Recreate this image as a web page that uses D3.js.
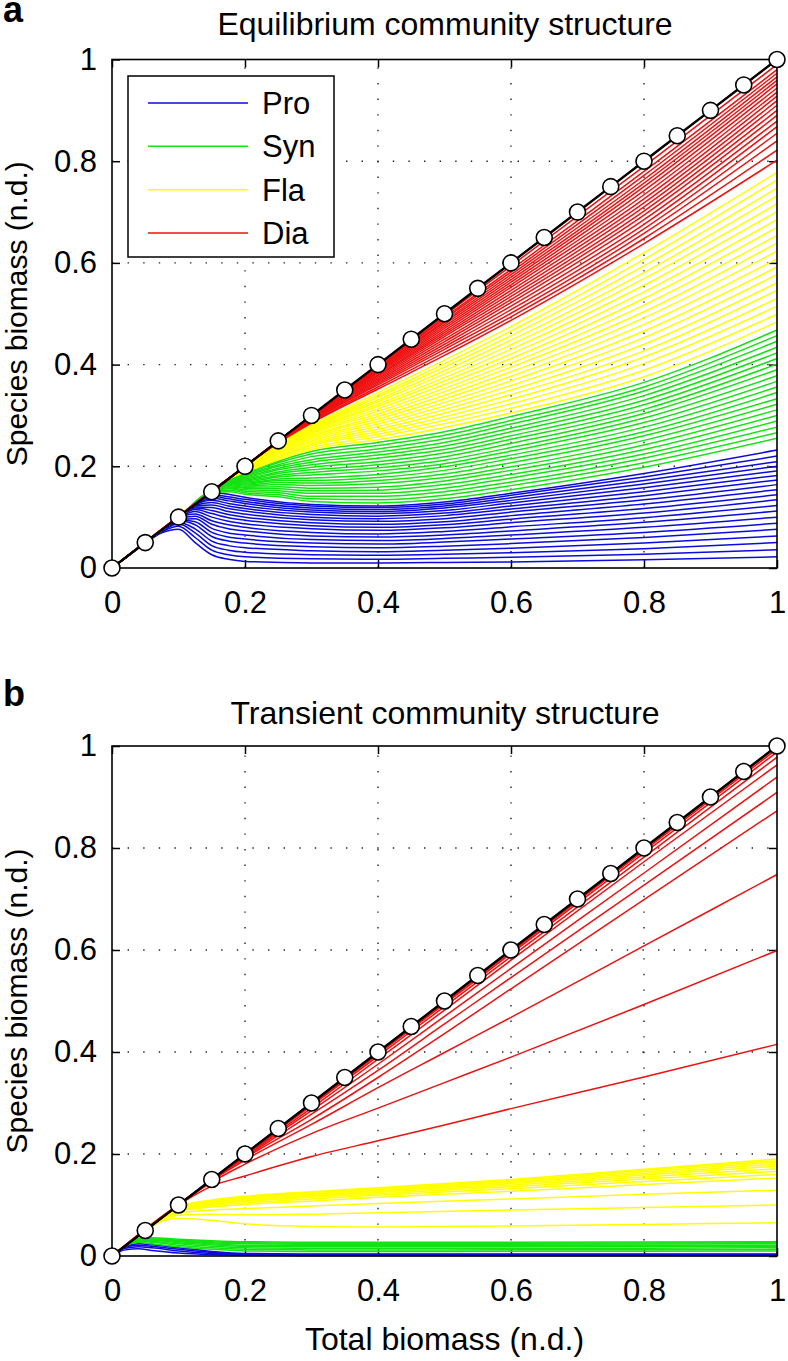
<!DOCTYPE html>
<html><head><meta charset="utf-8">
<script src="https://cdn.jsdelivr.net/npm/d3@7"></script>
<style>
body{margin:0;background:#fff;}
text{font-family:"Liberation Sans",Arial,Helvetica,sans-serif;fill:#000;}
</style></head>
<body>
<script>
// ---------- shared ----------
const tickValues = [0, 0.2, 0.4, 0.6, 0.8, 1];
const tickLabels = ["0", "0.2", "0.4", "0.6", "0.8", "1"];
const gridValues = [0.2, 0.4, 0.6, 0.8];
const totalMarkers = [0, 0.05, 0.1, 0.15, 0.2, 0.25, 0.3, 0.35, 0.4, 0.45, 0.5, 0.55, 0.6, 0.65, 0.7, 0.75, 0.8, 0.85, 0.9, 0.95, 1];
const legendLabels = ["Pro", "Syn", "Fla", "Dia"];
const groupColors = ["#0b0bdc", "#12e412", "#ffff00", "#ee1111"];

// ---------- panel a: equilibrium (cumulative species biomass) ----------
const eqProX = [0, 0.05, 0.075, 0.1, 0.125, 0.15, 0.175, 0.2, 0.3, 0.4, 0.5, 0.6, 0.8, 1];
const eqPro = [
 [0, .049, .069, .076, .050, .026, .017, .013, .010, .010, .011, .012, .016, .022],
 [0, .05, .071, .082, .060, .035, .026, .022, .018, .017, .019, .021, .027, .036],
 [0, .05, .072, .087, .069, .044, .035, .031, .026, .025, .027, .030, .038, .050],
 [0, .05, .073, .090, .077, .053, .044, .040, .034, .032, .035, .039, .049, .063],
 [0, .05, .074, .093, .085, .062, .053, .049, .042, .040, .043, .048, .060, .076],
 [0, .05, .074, .095, .091, .070, .061, .057, .049, .047, .051, .057, .070, .088],
 [0, .05, .075, .096, .097, .078, .069, .065, .056, .054, .058, .065, .080, .100],
 [0, .05, .075, .097, .102, .086, .077, .073, .063, .061, .065, .073, .090, .112],
 [0, .05, .075, .098, .106, .093, .085, .080, .070, .067, .072, .081, .099, .123],
 [0, .05, .075, .098, .111, .100, .092, .087, .077, .074, .079, .089, .108, .134],
 [0, .05, .075, .099, .115, .107, .099, .094, .083, .080, .085, .096, .117, .144],
 [0, .05, .075, .099, .118, .113, .105, .100, .089, .086, .091, .103, .126, .154],
 [0, .05, .075, .099, .120, .119, .111, .106, .095, .092, .097, .110, .134, .164],
 [0, .05, .075, .1, .122, .124, .117, .112, .100, .097, .103, .116, .142, .173],
 [0, .05, .075, .1, .123, .129, .122, .117, .105, .102, .108, .122, .150, .182],
 [0, .05, .075, .1, .124, .133, .127, .122, .110, .107, .113, .128, .158, .191],
 [0, .05, .075, .1, .124, .137, .132, .127, .114, .111, .118, .133, .165, .200],
 [0, .05, .075, .1, .125, .141, .136, .131, .118, .115, .122, .138, .172, .209],
 [0, .05, .075, .1, .125, .144, .140, .135, .122, .119, .126, .143, .179, .220],
 [0, .05, .075, .1, .125, .148, .145, .139, .125, .122, .130, .147, .186, .232]
];
const eqSynX = [0, 0.1, 0.15, 0.175, 0.2, 0.25, 0.3, 0.4, 0.5, 0.6, 0.8, 1];
const eqSyn = [
 [0, .1, .149, .150, .145, .140, .131, .128, .136, .154, .198, .255],
 [0, .1, .15, .153, .148, .144, .136, .134, .143, .162, .207, .266],
 [0, .1, .15, .156, .151, .148, .141, .141, .150, .169, .216, .277],
 [0, .1, .15, .158, .154, .152, .147, .147, .157, .177, .224, .289],
 [0, .1, .15, .160, .157, .156, .152, .153, .164, .184, .233, .300],
 [0, .1, .15, .162, .159, .160, .157, .159, .171, .192, .242, .311],
 [0, .1, .15, .164, .161, .164, .162, .166, .178, .199, .251, .322],
 [0, .1, .15, .166, .163, .168, .167, .172, .185, .207, .260, .333],
 [0, .1, .15, .167, .165, .172, .172, .178, .192, .215, .268, .345],
 [0, .1, .15, .168, .167, .175, .177, .184, .199, .222, .277, .356],
 [0, .1, .15, .169, .169, .179, .183, .191, .205, .230, .286, .367],
 [0, .1, .15, .170, .171, .182, .188, .197, .212, .237, .295, .378],
 [0, .1, .15, .171, .173, .186, .193, .203, .219, .245, .304, .390],
 [0, .1, .15, .172, .175, .189, .198, .209, .226, .253, .312, .401],
 [0, .1, .15, .173, .177, .193, .203, .216, .233, .260, .321, .412],
 [0, .1, .15, .173, .179, .196, .208, .222, .240, .268, .330, .423],
 [0, .1, .15, .174, .181, .200, .213, .228, .247, .275, .339, .434],
 [0, .1, .15, .174, .183, .203, .219, .234, .254, .283, .348, .446],
 [0, .1, .15, .175, .185, .207, .224, .241, .261, .290, .356, .457],
 [0, .1, .15, .175, .187, .210, .229, .247, .268, .298, .365, .468]
];
const eqFlaX = [0, 0.15, 0.175, 0.2, 0.25, 0.3, 0.4, 0.6, 0.8, 1];
const eqFla = [
 [0, .15, .175, .188, .213, .233, .252, .305, .376, .484],
 [0, .15, .175, .189, .216, .237, .258, .314, .389, .499],
 [0, .15, .175, .190, .219, .241, .263, .323, .402, .515],
 [0, .15, .175, .191, .221, .244, .268, .332, .415, .530],
 [0, .15, .175, .192, .224, .247, .273, .341, .427, .546],
 [0, .15, .175, .193, .226, .250, .278, .350, .440, .561],
 [0, .15, .175, .193, .228, .253, .283, .359, .453, .577],
 [0, .15, .175, .194, .230, .256, .288, .368, .466, .592],
 [0, .15, .175, .195, .232, .259, .293, .377, .479, .608],
 [0, .15, .175, .195, .234, .261, .298, .386, .492, .623],
 [0, .15, .175, .196, .235, .264, .303, .395, .504, .639],
 [0, .15, .175, .196, .237, .266, .308, .403, .517, .654],
 [0, .15, .175, .197, .238, .268, .313, .412, .530, .670],
 [0, .15, .175, .197, .239, .270, .318, .421, .543, .685],
 [0, .15, .175, .198, .240, .272, .322, .430, .556, .701],
 [0, .15, .175, .198, .241, .274, .327, .439, .569, .716],
 [0, .15, .175, .198, .242, .276, .331, .448, .581, .732],
 [0, .15, .175, .199, .243, .277, .336, .457, .594, .747],
 [0, .15, .175, .199, .244, .279, .340, .466, .607, .763],
 [0, .15, .175, .199, .245, .281, .345, .475, .620, .778]
];
const eqDiaX = [0, 0.2, 0.25, 0.3, 0.4, 0.5, 0.6, 0.8, 1];
const eqDia = [
 [0, .2, .246, .285, .352, .418, .487, .638, .802],
 [0, .2, .247, .287, .356, .424, .494, .648, .822],
 [0, .2, .247, .289, .360, .430, .501, .658, .840],
 [0, .2, .248, .290, .363, .435, .508, .667, .855],
 [0, .2, .248, .291, .366, .440, .515, .676, .868],
 [0, .2, .248, .292, .369, .445, .522, .685, .879],
 [0, .2, .249, .293, .372, .450, .528, .694, .890],
 [0, .2, .249, .294, .375, .455, .534, .702, .900],
 [0, .2, .249, .295, .378, .459, .540, .710, .910],
 [0, .2, .249, .296, .380, .463, .546, .718, .919],
 [0, .2, .25, .296, .383, .467, .552, .726, .928],
 [0, .2, .25, .297, .385, .471, .557, .734, .936],
 [0, .2, .25, .297, .387, .475, .562, .742, .944],
 [0, .2, .25, .298, .389, .479, .567, .750, .952],
 [0, .2, .25, .298, .391, .483, .572, .757, .959],
 [0, .2, .25, .299, .393, .486, .577, .764, .966],
 [0, .2, .25, .299, .395, .490, .582, .772, .973],
 [0, .2, .25, .299, .397, .493, .587, .780, .980],
 [0, .2, .25, .3, .399, .497, .594, .790, .990],
 [0, .2, .25, .3, .4, .5, .6, .8, 1]
];

// ---------- panel b: transient ----------
const trSmallX = [0, 0.02, 0.04, 0.06, 0.1, 0.15, 0.2, 0.3, 0.5, 1];
const trPro = [
 [0, .012, .014, .011, .006, .003, .002, .001, .001, .001],
 [0, .015, .018, .016, .010, .005, .003, .002, .002, .002],
 [0, .017, .021, .019, .013, .007, .004, .003, .003, .003],
 [0, .018, .024, .022, .016, .009, .005, .004, .004, .004]
];
const trSyn = [
 [0, .02, .027, .024, .018, .013, .010, .009, .009, .010],
 [0, .02, .029, .027, .021, .016, .013, .012, .012, .013],
 [0, .02, .030, .029, .024, .019, .016, .015, .015, .016],
 [0, .02, .031, .031, .026, .022, .019, .018, .018, .019],
 [0, .02, .032, .032, .028, .024, .021, .021, .021, .021],
 [0, .02, .033, .033, .030, .026, .024, .023, .023, .024],
 [0, .02, .034, .034, .031, .028, .026, .025, .025, .026],
 [0, .02, .035, .036, .033, .030, .028, .027, .027, .028]
];
const trFlaX = [0, 0.05, 0.075, 0.1, 0.15, 0.2, 0.3, 0.4, 0.6, 0.8, 1];
const trFla = [
 [0, .05, .068, .074, .070, .063, .058, .057, .059, .062, .065],
 [0, .05, .070, .080, .082, .081, .082, .085, .090, .095, .100],
 [0, .05, .071, .084, .090, .093, .098, .103, .112, .121, .129],
 [0, .05, .072, .087, .096, .101, .108, .115, .127, .140, .153],
 [0, .05, .073, .089, .099, .104, .112, .119, .132, .146, .160],
 [0, .05, .073, .090, .101, .107, .115, .122, .136, .151, .166],
 [0, .05, .074, .091, .103, .109, .117, .125, .139, .155, .171],
 [0, .05, .074, .092, .105, .111, .119, .127, .142, .159, .176],
 [0, .05, .074, .093, .106, .113, .121, .129, .144, .162, .180],
 [0, .05, .075, .094, .107, .114, .123, .130, .146, .165, .184],
 [0, .05, .075, .095, .109, .116, .125, .132, .148, .168, .187],
 [0, .05, .075, .096, .110, .117, .126, .134, .150, .170, .190]
];
const trDiaX = [0, 0.1, 0.15, 0.2, 0.3, 0.4, 0.5, 0.6, 0.8, 1];
const trDia = [
 [0, .1, .137, .157, .195, .226, .257, .289, .351, .415],
 [0, .1, .145, .180, .240, .290, .340, .390, .493, .599],
 [0, .1, .148, .188, .258, .330, .399, .468, .608, .748],
 [0, .1, .149, .192, .268, .350, .436, .524, .699, .873],
 [0, .1, .15, .194, .278, .364, .455, .546, .727, .909],
 [0, .1, .15, .196, .285, .376, .470, .564, .751, .939],
 [0, .1, .15, .197, .290, .386, .482, .580, .773, .963],
 [0, .1, .15, .198, .295, .392, .489, .587, .782, .978],
 [0, .1, .15, .199, .297, .396, .494, .593, .790, .988],
 [0, .1, .15, .2, .299, .398, .497, .596, .795, .994],
 [0, .1, .15, .2, .3, .399, .499, .599, .798, .998],
 [0, .1, .15, .2, .3, .4, .5, .6, .8, 1]
];

// ---------- drawing ----------
const W = 788, H = 1361;
const svg = d3.select("body").append("svg").attr("width", W).attr("height", H);
const TICK_FONT = 31;

function drawPanel(cfg) {
  const x = d3.scaleLinear().domain([0, 1]).range([112, 777]);
  const y = d3.scaleLinear().domain([0, 1]).range([cfg.bottom, cfg.top]);
  const g = svg.append("g");

  // grid
  g.selectAll(".gx").data(gridValues).join("line")
    .attr("x1", d => x(d)).attr("x2", d => x(d)).attr("y1", y(0)).attr("y2", y(1))
    .attr("stroke", "#222").attr("stroke-width", 1.4).attr("stroke-dasharray", "1.4,14.2");
  g.selectAll(".gy").data(gridValues).join("line")
    .attr("y1", d => y(d)).attr("y2", d => y(d)).attr("x1", x(0)).attr("x2", x(1))
    .attr("stroke", "#222").attr("stroke-width", 1.4).attr("stroke-dasharray", "1.4,14.2");

  // axes (inward ticks on all four sides)
  const fmt = d => tickLabels[tickValues.indexOf(d)];
  const bottom = g.append("g").attr("transform", `translate(0,${y(0)})`)
    .call(d3.axisBottom(x).tickValues(tickValues).tickSize(-8).tickSizeOuter(0).tickPadding(23).tickFormat(fmt));
  const left = g.append("g").attr("transform", `translate(${x(0)},0)`)
    .call(d3.axisLeft(y).tickValues(tickValues).tickSize(-8).tickSizeOuter(0).tickPadding(15).tickFormat(fmt));
  const top = g.append("g").attr("transform", `translate(0,${y(1)})`)
    .call(d3.axisTop(x).tickValues(tickValues).tickSize(-8).tickSizeOuter(0).tickFormat(""));
  const right = g.append("g").attr("transform", `translate(${x(1)},0)`)
    .call(d3.axisRight(y).tickValues(tickValues).tickSize(-8).tickSizeOuter(0).tickFormat(""));
  [bottom, left, top, right].forEach(a => {
    a.select(".domain").remove();
    a.selectAll(".tick line").attr("stroke", "#000").attr("stroke-width", 1.5);
    a.selectAll("text").attr("font-size", TICK_FONT).attr("font-family", '"Liberation Sans",Arial,sans-serif').attr("fill", "#000");
  });

  // series
  const line = d3.line().curve(d3.curveMonotoneX);
  cfg.groups.forEach((grp, gi) => {
    g.append("g").selectAll("path").data(grp.rows).join("path")
      .attr("d", row => line(row.map((v, i) => [x(grp.xs[i]), y(v)])))
      .attr("fill", "none").attr("stroke", groupColors[gi]).attr("stroke-width", 1.5);
  });

  // frame
  g.append("rect").attr("x", x(0)).attr("y", y(1)).attr("width", x(1) - x(0)).attr("height", y(0) - y(1))
    .attr("fill", "none").attr("stroke", "#000").attr("stroke-width", 1.6);

  // total biomass line + markers
  g.append("path").attr("d", d3.line()(totalMarkers.map(v => [x(v), y(v)])))
    .attr("fill", "none").attr("stroke", "#000").attr("stroke-width", 2.4);
  g.selectAll("circle").data(totalMarkers).join("circle")
    .attr("cx", d => x(d)).attr("cy", d => y(d)).attr("r", 8)
    .attr("fill", "#fff").attr("stroke", "#000").attr("stroke-width", 1.6);

  // titles
  g.append("text").attr("x", 445).attr("y", cfg.titleY).attr("text-anchor", "middle")
    .attr("font-size", 32).text(cfg.title);
  g.append("text").attr("transform", `translate(27,${(y(0) + y(1)) / 2}) rotate(-90)`)
    .attr("text-anchor", "middle").attr("font-size", 30).text("Species biomass (n.d.)");
  g.append("text").attr("x", 3).attr("y", cfg.labelY).attr("font-size", 36).attr("font-weight", "bold").text(cfg.label);

  if (cfg.legend) {
    const lg = g.append("g");
    lg.append("rect").attr("x", 128).attr("y", 76).attr("width", 206).attr("height", 181)
      .attr("fill", "#fff").attr("stroke", "#000").attr("stroke-width", 1.5);
    const rowY = d3.scalePoint().domain(legendLabels).range([103, 233]);
    legendLabels.forEach((lab, i) => {
      lg.append("line").attr("x1", 148).attr("x2", 248).attr("y1", rowY(lab)).attr("y2", rowY(lab))
        .attr("stroke", groupColors[i]).attr("stroke-width", 1.5);
      lg.append("text").attr("x", 262).attr("y", rowY(lab) + 11).attr("font-size", 31).text(lab);
    });
  }
  return {x, y};
}

drawPanel({
  top: 59.5, bottom: 568, titleY: 35, labelY: 22, label: "a", legend: true,
  title: "Equilibrium community structure",
  groups: [
    {xs: eqProX, rows: eqPro}, {xs: eqSynX, rows: eqSyn},
    {xs: eqFlaX, rows: eqFla}, {xs: eqDiaX, rows: eqDia}
  ]
});
drawPanel({
  top: 746, bottom: 1256, titleY: 724, labelY: 706, label: "b", legend: false,
  title: "Transient community structure",
  groups: [
    {xs: trSmallX, rows: trPro}, {xs: trSmallX, rows: trSyn},
    {xs: trFlaX, rows: trFla}, {xs: trDiaX, rows: trDia}
  ]
});
svg.append("text").attr("x", 444.5).attr("y", 1350).attr("text-anchor", "middle")
  .attr("font-size", 32).text("Total biomass (n.d.)");
</script>
</body></html>
